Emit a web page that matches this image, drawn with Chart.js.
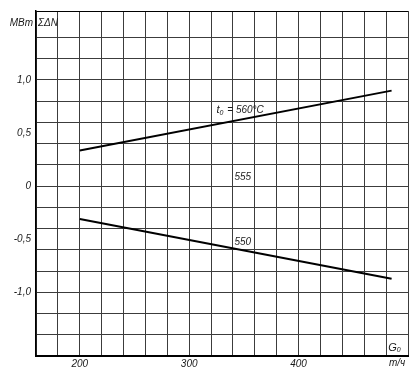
<!DOCTYPE html>
<html>
<head>
<meta charset="utf-8">
<script src="https://cdn.jsdelivr.net/npm/chart.js@4"></script>
<style>
  html, body { margin: 0; padding: 0; background: #fff; }
  #wrap { width: 418px; height: 379px; }
</style>
</head>
<body>
<div id="wrap"><canvas id="c" width="418" height="379"></canvas></div>
<script>
// ---- data ----
const flowX = [200, 485];                 // G0, т/ч
const dN560 = [0.335, 0.90];              // t0 = 560 °C
const dN550 = [-0.31, -0.873];            // t0 = 550 °C
const xTickValues = [200, 300, 400];
const xTickLabels = ['200', '300', '400'];
const yTickValues = [1.0, 0.5, 0, -0.5, -1.0];
const yTickLabels = ['1,0', '0,5', '0', '-0,5', '-1,0'];

const FONT = "'Liberation Sans', 'DejaVu Sans', sans-serif";
const INK = '#1a1a1a';
const GRID = '#3c3c3c';

function near(v, list) {
  for (let i = 0; i < list.length; i++) if (Math.abs(v - list[i]) < 1e-6) return i;
  return -1;
}

const textPlugin = {
  id: 'texts',
  afterDatasetsDraw(chart) {
    const { ctx, scales: { x, y } } = chart;
    ctx.save();
    ctx.fillStyle = INK;
    ctx.textBaseline = 'middle';
    // axis titles
    ctx.font = 'italic 10px ' + FONT;
    ctx.textAlign = 'right';
    ctx.fillText('МВт', x.left - 3, y.getPixelForValue(1.535));
    ctx.textAlign = 'left';
    ctx.fillText('ΣΔN', x.left + 2, y.getPixelForValue(1.535));
    ctx.textAlign = 'center';
    ctx.fillText('т/ч', x.getPixelForValue(490), y.bottom + 7);
    // G0
    let gx = x.getPixelForValue(482), gy = y.getPixelForValue(-1.52);
    ctx.font = 'italic 11px ' + FONT;
    ctx.textAlign = 'left';
    ctx.fillText('G', gx, gy);
    let gw = ctx.measureText('G').width;
    ctx.font = 'italic 7px ' + FONT;
    ctx.fillText('0', gx + gw, gy + 3);
    // t0 = 560 °C
    let tx = x.getPixelForValue(325), ty = y.getPixelForValue(0.72);
    ctx.font = 'italic 11px ' + FONT;
    ctx.fillText('t', tx, ty);
    let tw = ctx.measureText('t').width;
    ctx.font = 'italic 7px ' + FONT;
    ctx.fillText('0', tx + tw, ty + 3);
    let sw = ctx.measureText('0').width;
    ctx.font = 'italic 10px ' + FONT;
    ctx.fillText(' = 560°С', tx + tw + sw + 1, ty);
    // curve labels
    ctx.textAlign = 'center';
    ctx.fillText('555', x.getPixelForValue(349), y.getPixelForValue(0.085));
    ctx.fillText('550', x.getPixelForValue(349), y.getPixelForValue(-0.525));
    ctx.restore();
  }
};

new Chart(document.getElementById('c'), {
  type: 'line',
  data: {
    datasets: [
      { label: '560', data: flowX.map((v, i) => ({ x: v, y: dN560[i] })),
        borderColor: '#000', borderWidth: 2, pointRadius: 0, fill: false },
      { label: '550', data: flowX.map((v, i) => ({ x: v, y: dN550[i] })),
        borderColor: '#000', borderWidth: 2, pointRadius: 0, fill: false }
    ]
  },
  options: {
    responsive: false,
    animation: false,
    layout: { padding: { top: 3, right: 10, left: 0, bottom: 0 } },
    plugins: { legend: { display: false }, tooltip: { enabled: false } },
    scales: {
      x: {
        type: 'linear',
        min: 160, max: 500,
        afterFit(s) { s.height = 23; },
        ticks: {
          stepSize: 20, autoSkip: false, maxRotation: 0, padding: 2,
          color: INK, font: { family: FONT, size: 10, style: 'italic' },
          callback(v) { const i = near(v, xTickValues); return i >= 0 ? xTickLabels[i] : ''; }
        },
        grid: { color: GRID, lineWidth: 1, drawTicks: false },
        border: { color: '#000', width: 2 }
      },
      y: {
        type: 'linear',
        min: -1.6, max: 1.65,
        afterFit(s) { s.width = 36; },
        ticks: {
          stepSize: 0.1, autoSkip: false, padding: 5,
          color: INK, font: { family: FONT, size: 10, style: 'italic' },
          callback(v) { const i = near(v, yTickValues); return i >= 0 ? yTickLabels[i] : ''; }
        },
        grid: {
          drawTicks: false, lineWidth: 1,
          color(ctx) {
            const v = ctx.tick ? ctx.tick.value : 0;
            const k = Math.round(v * 10);
            if (v > 1.62) return '#000';
            return (Math.abs(v * 10 - k) < 1e-6 && k % 2 === 0) ? GRID : 'rgba(0,0,0,0)';
          }
        },
        border: { color: '#000', width: 1.5 }
      }
    }
  },
  plugins: [textPlugin]
});
</script>
</body>
</html>
